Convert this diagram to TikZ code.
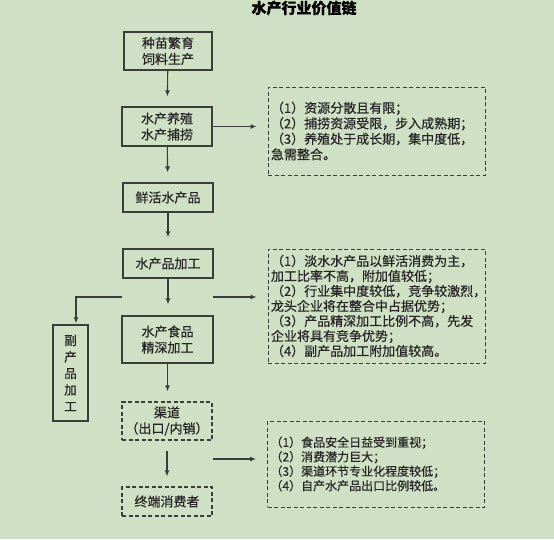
\documentclass[tikz,border=0pt]{standalone}
\usepackage{fontspec}
\setmainfont{Noto Sans CJK SC}[FakeBold=0.5]
\usetikzlibrary{arrows.meta}
\definecolor{paleleaf}{RGB}{207,224,196}
\definecolor{inkgray}{RGB}{58,62,56}
\tikzset{
	stage/.style={draw=inkgray, line width=1.2pt, minimum width=90pt, inner sep=0pt, align=center, text=black!85, font=\fontsize{13}{16}\selectfont},
	channel/.style={stage, dash pattern=on 4pt off 2.5pt},
	note/.style={draw=inkgray, line width=1pt, dash pattern=on 4pt off 2.5pt, minimum width=217pt, text width=211pt, inner sep=3pt, align=left, text=black!85, font=\fontsize{13}{15.5}\selectfont},
	flow/.style={draw=inkgray, line width=1.1pt, -{Latex[length=6pt,width=5pt]}},
}
\begin{document}
\begin{tikzpicture}[x=1pt,y=-1pt]
	\fill[paleleaf] (0,0) rectangle (554,539); % background
	\useasboundingbox (0,0) rectangle (554,539);
	\node[font=\bfseries\fontsize{15}{15}\selectfont] (title) at (304,8) {水产行业价值链};
	% main chain
	\node[stage, minimum width=88pt, minimum height=38pt] (seed) at (168,51) {种苗繁育\\饲料生产};
	\node[stage, minimum height=39pt] (farm) at (167,126.5) {水产养殖\\水产捕捞};
	\node[stage, minimum height=29pt] (fresh) at (168,197.5) {鲜活水产品};
	\node[stage, minimum height=29pt] (proc) at (168,263.5) {水产品加工};
	\node[stage, minimum width=91pt, minimum height=47pt] (deep) at (167.5,339.5) {水产食品\\精深加工};
	\node[stage, minimum width=35pt, minimum height=96pt, font=\fontsize{12.5}{16.5}\selectfont] (byprod) at (70.5,373) {副\\产\\品\\加\\工};
	\node[channel, minimum height=38pt] (chan) at (167,421) {渠道\\（出口/内销）};
	\node[channel, minimum height=29pt] (cons) at (167,501.5) {终端消费者};
	% notes
	\node[note, minimum height=88pt] (note1) at (376.5,131) {（1）资源分散且有限；\\（2）捕捞资源受限，步入成熟期；\\（3）养殖处于成长期，集中度低，\\急需整合。};
	\node[note, minimum height=114pt, font=\fontsize{13}{15}\selectfont] (note2) at (376.5,306) {（1）淡水水产品以鲜活消费为主，\\加工比率不高，附加值较低；\\（2）行业集中度较低，竞争较激烈，\\龙头企业将在整合中占据优势；\\（3）产品精深加工比例不高，先发\\企业将具有竞争优势；\\（4）副产品加工附加值较高。};
	\node[note, minimum width=216pt, minimum height=86pt, font=\fontsize{12}{14.5}\selectfont] (note3) at (376,464) {（1）食品安全日益受到重视；\\（2）消费潜力巨大；\\（3）渠道环节专业化程度较低；\\（4）自产水产品出口比例较低。};
	% arrows down
	\draw[flow, shorten >=10pt] (seed) -- (farm);
	\draw[flow, shorten >=10pt] (farm) -- (fresh);
	\draw[flow, shorten >=11pt] (fresh) -- (proc);
	\draw[flow, shorten >=11pt] (proc.south) -- (proc.south |- deep.north);
	\draw[flow, shorten >=10pt] (deep.south) -- (deep.south |- chan.north);
	\draw[flow, shorten <=10pt, shorten >=10pt] (chan) -- (cons);
	% arrows to the notes
	\coordinate (bl) at (122,297);
	\coordinate (br) at (213,297);
	\coordinate (cr) at (213,459);
	\draw[flow, shorten >=11pt] (farm.east) -- (farm.east -| note1.west);
	\draw[flow, shorten >=11pt] (br) -- (br -| note2.west);
	\draw[flow, shorten >=11pt] (cr) -- (cr -| note3.west);
	\draw[flow, shorten >=1pt] (bl) -| ([xshift=5.5pt]byprod.north);
\end{tikzpicture}
\end{document}
